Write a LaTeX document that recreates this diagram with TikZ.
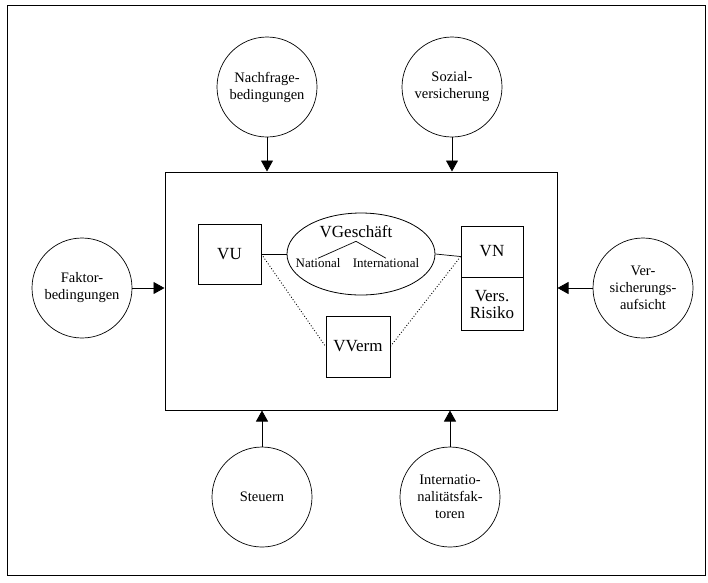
\documentclass[tikz,border=0pt]{standalone}
\usepackage{fontspec}
\setmainfont{Liberation Serif}
\usetikzlibrary{shapes.geometric,arrows.meta,positioning}

\begin{document}
\begin{tikzpicture}[x=1pt,y=-1pt,>={Triangle[length=11pt,width=12pt]},
  faktor/.style={circle,draw,line width=0.7pt,minimum size=100pt,inner sep=0pt,align=center,
                 font=\fontsize{14.5}{17}\selectfont},
  kasten/.style={draw,line width=0.8pt,minimum width=63pt,minimum height=60pt,inner sep=0pt,align=center,
                 font=\fontsize{17}{17}\selectfont},
  einfluss/.style={->,line width=0.8pt},
  klein/.style={inner sep=0pt,font=\fontsize{13}{13}\selectfont}]
  \useasboundingbox (0,0) rectangle (708,582);
  \draw[line width=0.9pt] (7,5) rectangle (705,575);

  % Markt in der Mitte
  \node[draw,line width=1pt,minimum width=392pt,minimum height=238pt] (markt) at (361,291) {};
  \node[kasten] (vu) at (229.5,254) {VU};
  \node[ellipse,draw,line width=0.8pt,minimum width=148pt,minimum height=82pt] (vg) at (361,254) {};
  \node[inner sep=0pt,font=\fontsize{17}{17}\selectfont] (vgtext) at (356,232) {VGeschäft};
  \node[klein] (nat) at (318,263) {National};
  \node[klein] (intl) at (386,263) {International};
  \node[kasten,minimum width=62pt,minimum height=51pt] (vn) at (492,251.5) {VN};
  \node[kasten,minimum width=62pt,minimum height=53pt,below=0pt of vn] (risiko) {Vers.\\Risiko};
  \node[kasten,minimum width=64pt,minimum height=61pt] (vverm) at (358,346.5) {VVerm};

  \draw[line width=0.7pt] ([yshift=-3pt]vgtext.south) -- (nat.north);
  \draw[line width=0.7pt] ([yshift=-3pt]vgtext.south) -- (intl.north);
  \draw[line width=0.7pt] (vu.east) -- (vg.west);
  \draw[line width=0.7pt] (vg.east) -- ([yshift=-5pt]vn.west);
  \draw[dotted,line width=0.9pt] (vu.east) -- (vverm.west);
  \draw[dotted,line width=0.9pt] ([yshift=-5pt]vn.west) -- (vverm.east);

  % Einflussfaktoren
  \node[faktor] (nachfrage) at (267,87) {Nachfrage-\\bedingungen};
  \node[faktor] (sozial) at (452,87) {Sozial-\\versicherung};
  \node[faktor] (faktor) at (82,288) {Faktor-\\bedingungen};
  \node[faktor] (aufsicht) at (643,288) {Ver-\\sicherungs-\\aufsicht};
  \node[faktor] (steuern) at (262,497) {Steuern};
  \node[faktor] (intfakt) at (450,497) {Internatio-\\nalitätsfak-\\toren};

  \draw[einfluss] (nachfrage) -- (nachfrage |- markt.north);
  \draw[einfluss] (sozial) -- (sozial |- markt.north);
  \draw[einfluss] (faktor) -- (faktor -| markt.west);
  \draw[einfluss] (aufsicht) -- (aufsicht -| markt.east);
  \draw[einfluss] (steuern) -- (steuern |- markt.south);
  \draw[einfluss] (intfakt) -- (intfakt |- markt.south);
\end{tikzpicture}
\end{document}
